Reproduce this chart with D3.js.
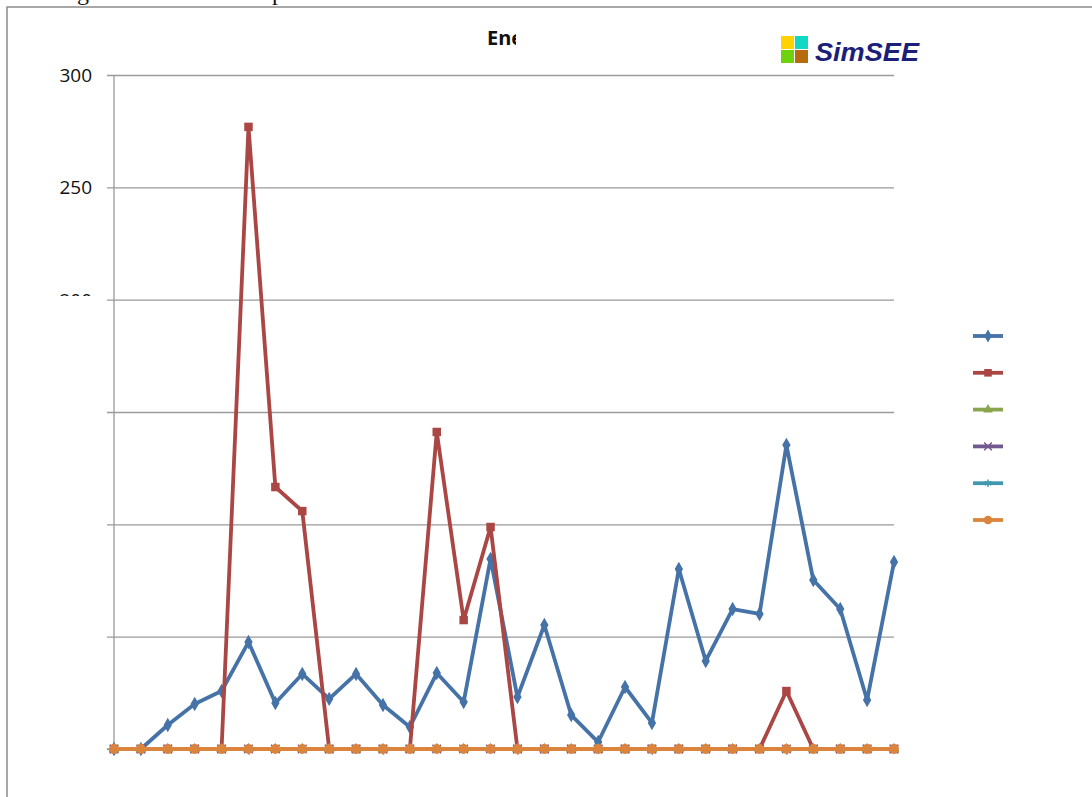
<!DOCTYPE html>
<html>
<head>
<meta charset="utf-8">
<script src="https://cdn.jsdelivr.net/npm/d3@7"></script>
<style>
  html, body { margin: 0; padding: 0; background: #fff; }
  svg { display: block; }
</style>
</head>
<body>
<svg id="chart" width="1092" height="797"></svg>
<script>
// ---- data ----
const categories = [1,2,3,4,5,6,7,8,9,10,11,12,13,14,15,16,17,18,19,20,21,22,23,24,25,26,27,28,29,30];
const serieAzul    = [0,0,10.7,20,25.8,47.6,20.5,33.4,22.3,33.4,19.6,9.8,33.8,20.9,84.6,23.1,55.2,15.1,3.1,27.6,11.6,80.1,39.2,62.3,60.1,135.3,75.2,62.3,21.8,83.2];
const serieRoja    = [0,0,0,0,0,276.9,116.6,105.9,0,0,0,0,141.1,57.4,98.8,0,0,0,0,0,0,0,0,0,0,25.8,0,0,0,0];
const serieVerde   = [0,0,0,0,0,0,0,0,0,0,0,0,0,0,0,0,0,0,0,0,0,0,0,0,0,0,0,0,0,0];
const serieVioleta = [0,0,0,0,0,0,0,0,0,0,0,0,0,0,0,0,0,0,0,0,0,0,0,0,0,0,0,0,0,0];
const serieCeleste = [0,0,0,0,0,0,0,0,0,0,0,0,0,0,0,0,0,0,0,0,0,0,0,0,0,0,0,0,0,0];
const serieNaranja = [0,0,0,0,0,0,0,0,0,0,0,0,0,0,0,0,0,0,0,0,0,0,0,0,0,0,0,0,0,0];
const yTicks = [0,50,100,150,200,250,300];
const yTickLabels = ["300","250","200"];
const xTickCategories = [1,6,11,16,21,26];
const titleText = "Energía";
const headerText = "a a large de datos en post";
const logoText = "SimSEE";

// ---- drawing ----
const svg = d3.select("#chart");
const W = 1092, H = 797;
const plot = {left: 114, right: 894, top: 75, bottom: 749};

const x = d3.scalePoint().domain(categories).range([plot.left, plot.right]);
const y = d3.scaleLinear().domain([0, 300]).range([plot.bottom, plot.top]);

const defs = svg.append("defs");
defs.append("clipPath").attr("id", "clipTitle")
  .append("rect").attr("x", 0).attr("y", 0).attr("width", 516).attr("height", 100);
defs.append("clipPath").attr("id", "clip200")
  .append("rect").attr("x", 0).attr("y", 0).attr("width", 200).attr("height", 296);

// header text (mostly off-page, as in the reference)
const hdr = svg.append("text")
  .attr("y", 0)
  .attr("font-family", "Liberation Serif")
  .attr("font-size", 24)
  .attr("fill", "#111")
  .text(headerText);
(function () {
  const node = hdr.node();
  const gi = headerText.indexOf("g");
  const pi = headerText.indexOf("p");
  const gx = node.getStartPositionOfChar(gi).x;
  const px = node.getStartPositionOfChar(pi).x;
  const ls = (195 - (px - gx)) / (pi - gi);
  hdr.attr("letter-spacing", ls);
  const gx2 = node.getStartPositionOfChar(gi).x;
  hdr.attr("x", 77 - gx2);
})();

// frame
svg.append("path")
  .attr("d", `M7,${H + 5} L7,7 L${W + 5},7`)
  .attr("fill", "none")
  .attr("stroke", "#8c8c8c")
  .attr("stroke-width", 1.5);

// gridlines + y ticks
const yAxis = d3.axisLeft(y).tickValues(yTicks).tickSize(-(plot.right - plot.left + 7)).tickFormat("");
const gy = svg.append("g").attr("transform", `translate(${plot.left - 7},0)`).call(yAxis);
gy.select(".domain").remove();
gy.selectAll(".tick line").attr("stroke", "#9a9a9a").attr("stroke-width", 1.3);

// y axis line
svg.append("line")
  .attr("x1", plot.left).attr("x2", plot.left)
  .attr("y1", y(300)).attr("y2", y(0))
  .attr("stroke", "#9a9a9a").attr("stroke-width", 1.3);

// x axis
const xAxis = d3.axisBottom(x).tickValues(xTickCategories).tickSize(6).tickFormat("");
const gx = svg.append("g").attr("transform", `translate(0,${y(0)})`).call(xAxis);
gx.select(".domain").remove();
gx.selectAll(".tick line").attr("stroke", "#9a9a9a").attr("stroke-width", 1.3);
svg.append("line")
  .attr("x1", plot.left - 7).attr("x2", plot.right)
  .attr("y1", y(0)).attr("y2", y(0))
  .attr("stroke", "#9a9a9a").attr("stroke-width", 1.3);

// y labels
const labelFont = "Open Sans";
[300, 250, 200].forEach((v, i) => {
  const t = svg.append("text").attr("x", 92).attr("y", y(v)).attr("dy", "0.36em")
    .attr("text-anchor", "end").attr("font-family", labelFont).attr("font-size", 19)
    .attr("fill", "#111").text(yTickLabels[i]);
  if (v === 200) t.attr("clip-path", "url(#clip200)");
});

// title (clipped)
svg.append("text").attr("x", 487).attr("y", 45)
  .attr("font-family", "Open Sans").attr("font-weight", "bold").attr("font-size", 20)
  .attr("fill", "#111").attr("clip-path", "url(#clipTitle)").text(titleText);

// logo
const logo = svg.append("g");
const sq = [
  {dx: 0, dy: 0, c: "#FFD200"},
  {dx: 14, dy: 0, c: "#10D8C4"},
  {dx: 0, dy: 14, c: "#6ED30E"},
  {dx: 14, dy: 14, c: "#B86B0C"}
];
logo.selectAll("rect").data(sq).join("rect")
  .attr("x", d => 781 + d.dx).attr("y", d => 36 + d.dy)
  .attr("width", 13).attr("height", 13).attr("fill", d => d.c);
logo.append("text").attr("x", 815).attr("y", 61)
  .attr("font-family", "Liberation Sans").attr("font-weight", "bold").attr("font-style", "italic")
  .attr("font-size", 26).attr("fill", "#1B1F7A")
  .attr("textLength", 104).attr("lengthAdjust", "spacingAndGlyphs")
  .text(logoText);

// series
const symTimes = d3.symbolTimes || d3.symbolCross;
const symAst = d3.symbolAsterisk || d3.symbolStar;
const series = [
  {name: "s1", values: serieAzul,    color: "#4572A7", sym: d3.symbolDiamond,  size: 60, stroke: false},
  {name: "s2", values: serieRoja,    color: "#AA4643", sym: d3.symbolSquare,   size: 72, stroke: false},
  {name: "s3", values: serieVerde,   color: "#89A54E", sym: d3.symbolTriangle, size: 50, stroke: false},
  {name: "s4", values: serieVioleta, color: "#71588F", sym: symTimes,          size: 50, stroke: true},
  {name: "s5", values: serieCeleste, color: "#4198AF", sym: symAst,            size: 50, stroke: true},
  {name: "s6", values: serieNaranja, color: "#DB843D", sym: d3.symbolCircle,   size: 75, stroke: false}
];

const line = d3.line().x((d, i) => x(categories[i])).y(d => y(d));

series.forEach(s => {
  const g = svg.append("g");
  g.append("path").datum(s.values)
    .attr("d", line)
    .attr("fill", "none")
    .attr("stroke", s.color)
    .attr("stroke-width", 3.8)
    .attr("stroke-linejoin", "round");
  g.selectAll("path.m").data(s.values).join("path")
    .attr("class", "m")
    .attr("transform", (d, i) => `translate(${x(categories[i])},${y(d)})`)
    .attr("d", d3.symbol().type(s.sym).size(s.size))
    .attr("fill", s.stroke ? "none" : s.color)
    .attr("stroke", s.stroke ? s.color : "none")
    .attr("stroke-width", 1.5);
});

// legend (labels hidden in reference)
const legend = svg.append("g");
series.forEach((s, i) => {
  const ly = 336 + i * 36.8;
  legend.append("line").attr("x1", 973).attr("x2", 1003).attr("y1", ly).attr("y2", ly)
    .attr("stroke", s.color).attr("stroke-width", 3.8);
  legend.append("path")
    .attr("transform", `translate(988,${ly})`)
    .attr("d", d3.symbol().type(s.sym).size(s.size * 0.8))
    .attr("fill", s.stroke ? "none" : s.color)
    .attr("stroke", s.stroke ? s.color : "none")
    .attr("stroke-width", 1.5);
});
</script>
</body>
</html>
